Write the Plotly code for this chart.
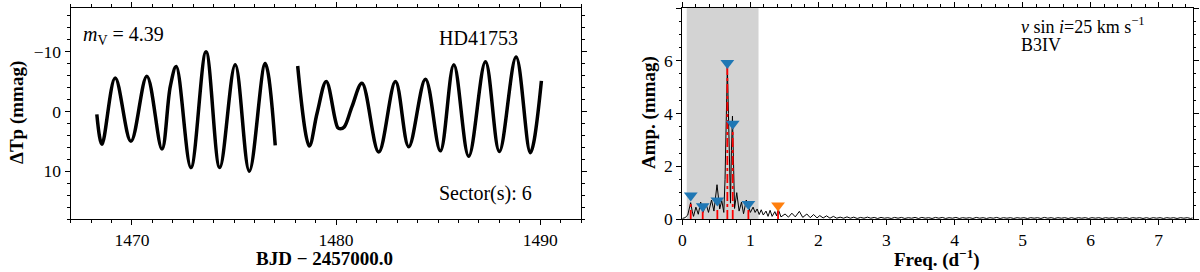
import plotly.graph_objects as go

# ---------------- light curve (BJD - 2457000, dTp mmag) ----------------
seg1_t = [1468.28, 1468.53, 1469.18, 1469.95, 1470.73, 1471.47, 1471.88, 1472.17,
          1472.89, 1473.63, 1474.30, 1475.06, 1475.75, 1476.53, 1477.02]
seg1_m = [0.5, 5.5, -5.6, 5.0, -5.9, 6.3, -4.2, -7.5,
          9.4, -10.0, 9.4, -7.8, 10.0, -8.0, 5.7]
seg2_t = [1478.12, 1478.69, 1479.07, 1479.52, 1480.08, 1480.21, 1480.40, 1480.78,
          1481.27, 1482.09, 1482.91, 1483.56, 1484.38, 1485.11, 1485.77, 1486.50,
          1487.32, 1488.00, 1488.82, 1489.52, 1490.06]
seg2_m = [-7.6, 5.8, 0.3, -5.0, 2.7, 2.9, 2.6, -0.8,
          -4.7, 6.8, -5.0, 5.9, -5.4, 6.6, -7.8, 7.5,
          -8.3, 6.7, -9.1, 6.9, -5.1]

# ---------------- amplitude spectrum ----------------
freq = [0.00, 0.04, 0.08, 0.10, 0.123, 0.145, 0.165, 0.20, 0.235, 0.27, 0.305, 0.35,
        0.385, 0.43, 0.465, 0.51, 0.55, 0.58, 0.61, 0.628, 0.645, 0.662, 0.678, 0.695,
        0.708, 0.722, 0.737, 0.752, 0.768, 0.80, 0.835, 0.87, 0.90, 0.94, 0.97, 1.00,
        1.04, 1.07, 1.10, 1.13, 1.16, 1.19, 1.23, 1.26, 1.29, 1.32, 1.36, 1.385, 1.41,
        1.45, 1.51, 1.56, 1.61, 1.66, 1.72, 1.77, 1.83, 1.88, 1.93, 1.98, 2.02, 2.07,
        2.12, 2.17, 2.22,
        2.27, 2.32, 2.37, 2.42, 2.47, 2.52, 2.57, 2.62, 2.67, 2.72, 2.77, 2.82, 2.87,
        2.92, 2.97, 3.02, 3.07, 3.12, 3.17, 3.22, 3.27, 3.32, 3.37, 3.42, 3.47, 3.52,
        3.57, 3.62, 3.67, 3.72, 3.77, 3.82, 3.87, 3.92, 3.97, 4.02, 4.07, 4.12, 4.17,
        4.22, 4.27, 4.32, 4.37, 4.42, 4.47, 4.52, 4.57, 4.62, 4.67, 4.72, 4.77, 4.82,
        4.87, 4.92, 4.97, 5.02, 5.07, 5.12, 5.17, 5.22, 5.27, 5.32, 5.37, 5.42, 5.47,
        5.52, 5.57, 5.62, 5.67, 5.72, 5.77, 5.82, 5.87, 5.92, 5.97, 6.02, 6.07, 6.12,
        6.17, 6.22, 6.27, 6.32, 6.37, 6.42, 6.47, 6.52, 6.57, 6.62, 6.67, 6.72, 6.77,
        6.82, 6.87, 6.92, 6.97, 7.02, 7.07, 7.12, 7.17, 7.22, 7.27, 7.32, 7.37, 7.42,
        7.47, 7.50]
amp = [0.02, 0.05, 0.15, 0.35, 0.62, 0.30, 0.10, 0.45, 0.18, 0.64, 0.25, 0.57,
       0.25, 0.72, 0.30, 1.30, 0.38, 0.70, 0.25, 1.50, 4.20, 5.80, 4.00, 1.10,
       0.60, 2.60, 3.90, 2.20, 0.40, 1.00, 0.30, 0.64, 0.20, 0.72, 0.50, 0.25,
       0.45, 0.25, 0.38, 0.17, 0.35, 0.15, 0.30, 0.10, 0.33, 0.10, 0.28, 0.12, 0.37,
       0.08, 0.19, 0.07, 0.22, 0.08, 0.29, 0.06, 0.19, 0.05, 0.17, 0.04, 0.13, 0.04,
       0.12, 0.03, 0.10,
       0.03, 0.07, 0.03, 0.08, 0.03, 0.07, 0.02, 0.06, 0.03, 0.07, 0.03, 0.06, 0.02,
       0.06, 0.03, 0.05, 0.02, 0.06, 0.03, 0.06, 0.02, 0.05, 0.03, 0.06, 0.02, 0.06,
       0.03, 0.05, 0.02, 0.06, 0.03, 0.06, 0.02, 0.05, 0.03, 0.06, 0.02, 0.05, 0.03,
       0.05, 0.02, 0.06, 0.03, 0.05, 0.02, 0.05, 0.03, 0.06, 0.02, 0.05, 0.03, 0.05,
       0.02, 0.05, 0.03, 0.05, 0.02, 0.05, 0.03, 0.05, 0.02, 0.06, 0.03, 0.05, 0.02,
       0.05, 0.03, 0.05, 0.02, 0.05, 0.02, 0.05, 0.03, 0.05, 0.02, 0.05, 0.03, 0.05,
       0.02, 0.05, 0.03, 0.05, 0.02, 0.05, 0.03, 0.05, 0.02, 0.05, 0.03, 0.05, 0.02,
       0.05, 0.02, 0.05, 0.03, 0.05, 0.02, 0.05, 0.03, 0.05, 0.02, 0.05, 0.03, 0.05,
       0.02, 0.04]

# extracted frequencies
sig_f = [0.124, 0.300, 0.515, 0.662, 0.741, 0.971]
sig_a = [0.89, 0.48, 0.70, 5.91, 3.61, 0.57]
comb_f = [1.407]
comb_a = [0.51]
line_f = [0.124, 0.300, 0.515, 0.662, 0.741, 0.971, 1.407]
line_h = [0.62, 0.32, 0.45, 5.80, 3.50, 0.38, 0.32]

shade_lo, shade_hi = 0.065, 1.12

FONT = "Liberation Serif"
W, H = 1200, 272

fig = go.Figure()

for t, m in ((seg1_t, seg1_m), (seg2_t, seg2_m)):
    fig.add_trace(go.Scatter(x=t, y=m, mode="lines", xaxis="x", yaxis="y",
                             line=dict(color="black", width=3.5, shape="spline", smoothing=1.0),
                             showlegend=False, hoverinfo="skip"))

vx, vy = [], []
for f, h in zip(line_f, line_h):
    vx += [f, f, None]
    vy += [0, h, None]
fig.add_trace(go.Scatter(x=freq, y=amp, mode="lines", xaxis="x2", yaxis="y2",
                         line=dict(color="black", width=1), showlegend=False))
fig.add_trace(go.Scatter(x=vx, y=vy, mode="lines", xaxis="x2", yaxis="y2",
                         line=dict(color="red", width=1.8, dash="dashdot"), showlegend=False))
fig.add_trace(go.Scatter(x=sig_f, y=sig_a, mode="markers", xaxis="x2", yaxis="y2",
                         marker=dict(symbol="triangle-down", size=12, color="#1f77b4"),
                         showlegend=False))
fig.add_trace(go.Scatter(x=comb_f, y=comb_a, mode="markers", xaxis="x2", yaxis="y2",
                         marker=dict(symbol="triangle-down", size=12, color="#ff7f0e"),
                         showlegend=False))

fig.add_shape(type="rect", xref="x2", yref="y2 domain", x0=shade_lo, x1=shade_hi, y0=0, y1=1,
              fillcolor="#d3d3d3", line=dict(width=0), layer="below")

ydom = [1 - 219 / H, 1 - 8 / H]
common = dict(showline=True, linecolor="black", linewidth=1.2, mirror="allticks",
              ticks="outside", ticklen=5, tickwidth=1.2, tickcolor="black",
              showgrid=False, zeroline=False, automargin=False,
              tickfont=dict(family=FONT, size=17.5, color="black"))
minor_common = dict(ticklen=2.5, ticks="outside", tickcolor="black", tickwidth=1)

fig.update_layout(
    width=W, height=H, margin=dict(l=0, r=0, t=0, b=0),
    paper_bgcolor="white", plot_bgcolor="white",
    font=dict(family=FONT, color="black"),
    xaxis=dict(domain=[70.7 / W, 581 / W], range=[1467, 1492], tickvals=[1470, 1480, 1490],
               minor=dict(dtick=1, tick0=1467, **minor_common), anchor="y", **common),
    yaxis=dict(domain=ydom, range=[18, -17.3], tickvals=[-10, 0, 10],
               minor=dict(dtick=2, tick0=0, **minor_common), anchor="x", **common),
    xaxis2=dict(domain=[682.3 / W, 1192.7 / W], range=[0, 7.5], dtick=1, tick0=0,
                minor=dict(dtick=0.2, **minor_common), anchor="y2", **common),
    yaxis2=dict(domain=ydom, range=[0, 8], dtick=2, tick0=0,
                minor=dict(dtick=0.5, **minor_common), anchor="x2", **common),
)

def ann(text, x, y, size=20, xanchor="left", angle=0, bold=False):
    fig.add_annotation(text=f"<b>{text}</b>" if bold else text, x=x / W, y=1 - y / H,
                       xref="paper", yref="paper", xanchor=xanchor, yanchor="middle",
                       showarrow=False, textangle=angle,
                       font=dict(family=FONT, size=size, color="black"))

ann("<i>m</i><sub>V</sub> = 4.39", 81, 36)
ann("HD41753", 437, 38)
ann("Sector(s): 6", 437, 193)
ann("<i>v</i> sin <i>i</i>=25 km s<sup>−1</sup>", 1019, 25, size=18)
ann("B3IV", 1019, 45, size=18)
ann("BJD − 2457000.0", 324, 258, size=19, xanchor="center", bold=True)
ann("Freq. (d<sup>−1</sup>)", 937, 258, size=19, xanchor="center", bold=True)
ann("ΔTp (mmag)", 17, 113, size=19, xanchor="center", angle=-90, bold=True)
ann("Amp. (mmag)", 649, 113, size=19, xanchor="center", angle=-90, bold=True)

fig.write_html("out.html", config={"displayModeBar": False},
               post_script="document.body.style.margin='0';document.body.style.padding='0';"
                           "document.documentElement.style.overflow='hidden';")
